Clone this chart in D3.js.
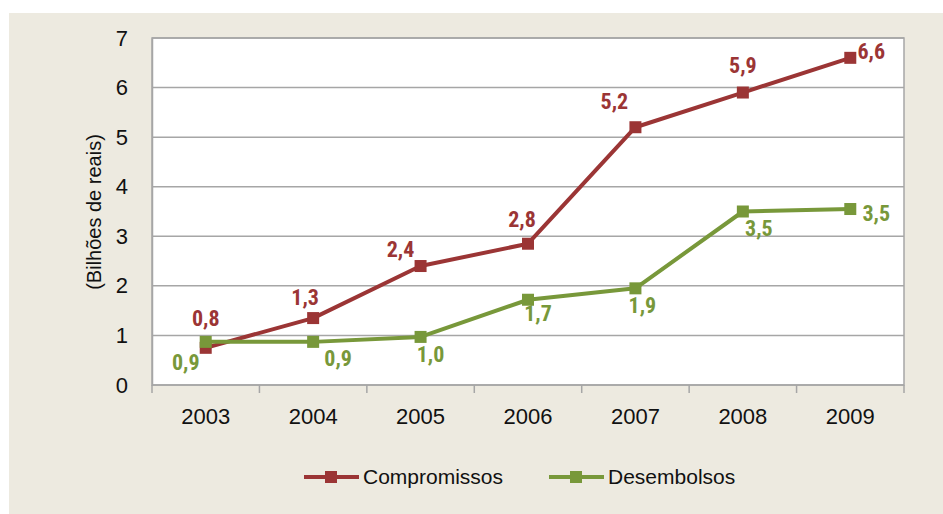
<!DOCTYPE html>
<html>
<head>
<meta charset="utf-8">
<script src="https://cdn.jsdelivr.net/npm/d3@7"></script>
<style>
  body { margin: 0; background: #fff; }
  svg { display: block; }
  .tick text { font-family: "Liberation Sans", Arial, sans-serif; }
  .lbl { font-family: "Liberation Sans Narrow", "Arial Narrow", "Roboto Condensed", sans-serif; font-weight: bold; font-size: 22px; }
</style>
</head>
<body>
<svg id="chart" width="943" height="514"></svg>
<script>
// values (billions of reais)
const years = ['2003', '2004', '2005', '2006', '2007', '2008', '2009'];
const compromissos = [0.75, 1.35, 2.4, 2.85, 5.2, 5.9, 6.6];
const desembolsos = [0.87, 0.87, 0.97, 1.72, 1.95, 3.5, 3.55];
const compLabels = ['0,8', '1,3', '2,4', '2,8', '5,2', '5,9', '6,6'];
const desLabels = ['0,9', '0,9', '1,0', '1,7', '1,9', '3,5', '3,5'];
const yTicks = [0, 1, 2, 3, 4, 5, 6, 7];

// where each value label sits relative to its marker
const compOffsets = [[0, -30], [-8, -21], [-20, -17], [-6, -24], [-21, -26], [0, -27], [21, -7]];
const desOffsets = [[-20, 20], [25, 16], [10, 17], [10, 14], [7, 17], [16, 17], [26, 4]];

const red = '#9b3535';
const green = '#78983a';

const svg = d3.select('#chart');

svg.append('rect')
   .attr('x', 9).attr('y', 13)
   .attr('width', 934).attr('height', 501)
   .attr('fill', '#edeae0');

const margin = {left: 152, top: 38, right: 904, bottom: 385};

const x = d3.scaleBand()
            .domain(years)
            .range([margin.left, margin.right]);

const y = d3.scaleLinear()
            .domain([0, 7])
            .range([margin.bottom, margin.top]);

svg.append('rect')
   .attr('x', margin.left).attr('y', margin.top)
   .attr('width', margin.right - margin.left)
   .attr('height', margin.bottom - margin.top)
   .attr('fill', '#fff')
   .attr('stroke', '#a6a6a6')
   .attr('stroke-width', 1.5);

// gridlines
svg.append('g')
   .selectAll('line')
   .data(yTicks)
   .enter()
   .append('line')
   .attr('x1', margin.left).attr('x2', margin.right)
   .attr('y1', (d) => y(d)).attr('y2', (d) => y(d))
   .attr('stroke', '#a6a6a6')
   .attr('stroke-width', 1.5);

// y axis
const yAxis = svg.append('g')
   .attr('transform', `translate(${margin.left},0)`)
   .call(d3.axisLeft(y).tickValues(yTicks).tickFormat(d3.format('d')).tickSize(0).tickPadding(24));
yAxis.select('.domain').attr('stroke', '#a6a6a6').attr('stroke-width', 1.5);
yAxis.selectAll('text').attr('font-size', 22).attr('fill', '#111');

// x axis with ticks on category boundaries
const xAxis = svg.append('g')
   .attr('transform', `translate(0,${margin.bottom})`)
   .call(d3.axisBottom(x).tickSize(0).tickPadding(23));
xAxis.select('.domain').remove();
xAxis.selectAll('text').attr('font-size', 22).attr('fill', '#111');

svg.append('g')
   .selectAll('line')
   .data(years.map((yr) => x(yr)).concat([margin.right]))
   .enter()
   .append('line')
   .attr('x1', (d) => d).attr('x2', (d) => d)
   .attr('y1', margin.bottom).attr('y2', margin.bottom + 8)
   .attr('stroke', '#a6a6a6')
   .attr('stroke-width', 1.5);

svg.append('text')
   .attr('transform', 'translate(101,212) rotate(-90)')
   .attr('text-anchor', 'middle')
   .attr('font-family', '"Liberation Sans", Arial, sans-serif')
   .attr('font-size', 20)
   .attr('fill', '#111')
   .text('(Bilhões de reais)');

const cx = (d, i) => x(years[i]) + x.bandwidth() / 2;

function drawSeries(values, labels, offsets, color) {
  const line = d3.line()
                 .x((d, i) => cx(d, i))
                 .y((d) => y(d));

  svg.append('path')
     .datum(values)
     .attr('d', line)
     .attr('fill', 'none')
     .attr('stroke', color)
     .attr('stroke-width', 4)
     .attr('stroke-linejoin', 'round');

  svg.append('g')
     .selectAll('rect')
     .data(values)
     .enter()
     .append('rect')
     .attr('x', (d, i) => cx(d, i) - 6)
     .attr('y', (d) => y(d) - 6)
     .attr('width', 12).attr('height', 12)
     .attr('fill', color);

  svg.append('g')
     .selectAll('text')
     .data(values)
     .enter()
     .append('text')
     .attr('class', 'lbl')
     .attr('x', (d, i) => cx(d, i) + offsets[i][0])
     .attr('y', (d, i) => y(d) + offsets[i][1])
     .attr('dy', '0.35em')
     .attr('text-anchor', 'middle')
     .attr('fill', color)
     .text((d, i) => labels[i]);
}

drawSeries(compromissos, compLabels, compOffsets, red);
drawSeries(desembolsos, desLabels, desOffsets, green);

// legend
const legendItems = [
  {name: 'Compromissos', color: red, x: 304},
  {name: 'Desembolsos', color: green, x: 549}
];

const legend = svg.append('g')
   .selectAll('g')
   .data(legendItems)
   .enter()
   .append('g')
   .attr('transform', (d) => `translate(${d.x},477)`);

legend.append('line')
      .attr('x1', 0).attr('x2', 55)
      .attr('stroke', (d) => d.color)
      .attr('stroke-width', 4);

legend.append('rect')
      .attr('x', 21).attr('y', -6)
      .attr('width', 12).attr('height', 12)
      .attr('fill', (d) => d.color);

legend.append('text')
      .attr('x', 59)
      .attr('dy', '0.35em')
      .attr('font-family', '"Liberation Sans", Arial, sans-serif')
      .attr('font-size', 21)
      .attr('fill', '#111')
      .text((d) => d.name);
</script>
</body>
</html>
